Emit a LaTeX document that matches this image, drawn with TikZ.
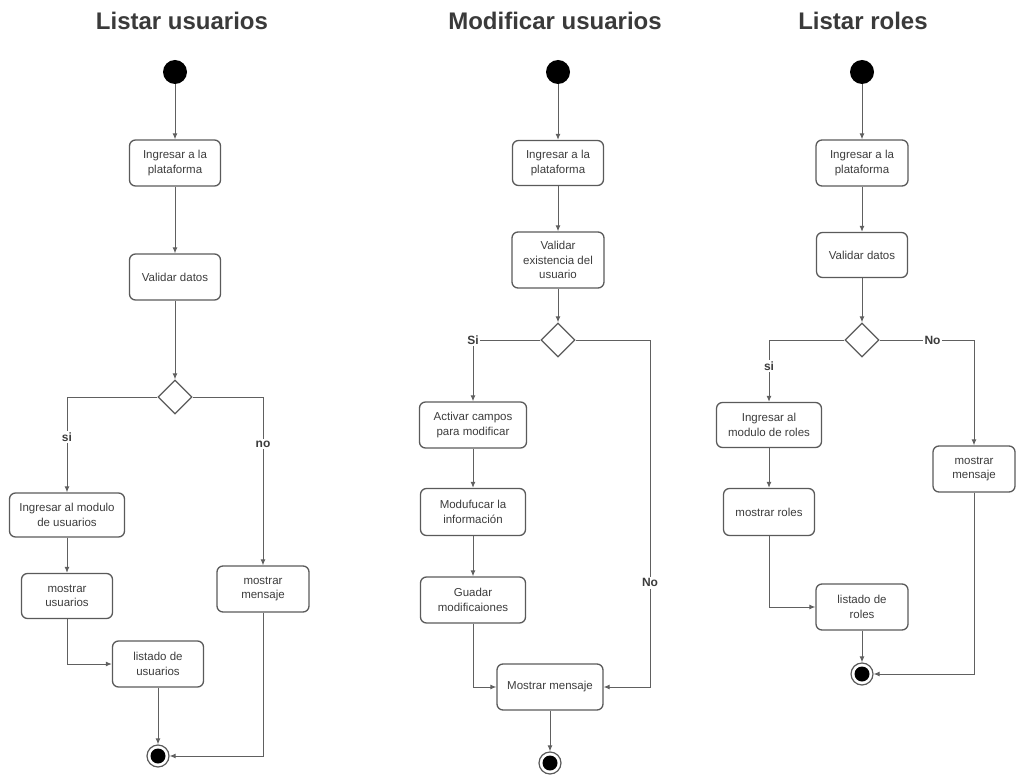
\documentclass[tikz,border=0pt]{standalone}
\usepackage{fontspec}
\setmainfont{Liberation Sans}
\usetikzlibrary{arrows.meta,shapes.geometric}
\definecolor{boxgray}{HTML}{5A5A5A}
\definecolor{linegray}{HTML}{606060}
\definecolor{txtgray}{HTML}{3C3C3C}
\definecolor{titlegray}{HTML}{3A3A3A}
\begin{document}
\begin{tikzpicture}[x=1pt,y=-1pt,
  act/.style={draw=boxgray, line width=1.3pt, rounded corners=6pt, inner sep=2pt,
    align=center, text=txtgray, font=\fontsize{11.5}{14.5}\selectfont},
  choice/.style={draw=boxgray, line width=1.3pt, diamond, aspect=1, inner sep=0pt,
    minimum width=34pt, minimum height=34pt},
  startdot/.style={circle, fill=black, inner sep=0pt, minimum size=24pt},
  enddot/.style={circle, draw=boxgray, line width=1.2pt, fill=white, inner sep=0pt,
    minimum size=22pt, path picture={\fill[black] (path picture bounding box.center) circle (7.5pt);}},
  flow/.style={draw=linegray, line width=1pt, -{Latex[length=6pt,width=5pt]}},
  lbl/.style={fill=white, inner sep=1.5pt, text=txtgray, font=\bfseries\fontsize{12}{14}\selectfont},
  ttl/.style={text=titlegray, font=\bfseries\fontsize{24}{28}\selectfont}]
\useasboundingbox (0,0) rectangle (1016,775);

% ---------- Listar usuarios ----------
\node[ttl] (t1) at (182,21) {Listar usuarios};
\node[startdot] (s1) at (175,72) {};
\node[act, minimum width=91pt, minimum height=46pt] (a1) at (175,163) {Ingresar a la\\plataforma};
\node[act, minimum width=91pt, minimum height=46pt] (b1) at (175,277) {Validar datos};
\node[choice] (d1) at (175,397) {};
\node[act, minimum width=115pt, minimum height=44pt] (c1) at (67,515) {Ingresar al modulo\\de usuarios};
\node[act, minimum width=91pt, minimum height=45pt] (u1) at (67,596) {mostrar\\usuarios};
\node[act, minimum width=91pt, minimum height=46pt] (l1) at (158,664) {listado de\\usuarios};
\node[act, minimum width=92pt, minimum height=46pt] (m1) at (263,589) {mostrar\\mensaje};
\node[enddot] (e1) at (158,756) {};

\draw[flow] (s1) -- (a1);
\draw[flow] (a1) -- (b1);
\draw[flow] (b1) -- (d1);
\draw[flow] (d1.west) -| node[lbl, pos=0.71] {si} (c1.north);
\draw[flow] (d1.east) -| node[lbl, pos=0.64] {no} (m1.north);
\draw[flow] (c1) -- (u1);
\draw[flow] (u1.south) |- (l1.west);
\draw[flow] (l1) -- (e1);
\draw[flow] (m1.south) |- (e1.east);

% ---------- Modificar usuarios ----------
\node[ttl] (t2) at (555,21) {Modificar usuarios};
\node[startdot] (s2) at (558,72) {};
\node[act, minimum width=91pt, minimum height=45pt] (a2) at (558,163) {Ingresar a la\\plataforma};
\node[act, minimum width=92pt, minimum height=56pt] (b2) at (558,260) {Validar\\existencia del\\usuario};
\node[choice] (d2) at (558,340) {};
\node[act, minimum width=107pt, minimum height=46pt] (c2) at (473,425) {Activar campos\\para modificar};
\node[act, minimum width=105pt, minimum height=47pt] (f2) at (473,512) {Modufucar la\\información};
\node[act, minimum width=105pt, minimum height=46pt] (g2) at (473,600) {Guadar\\modificaiones};
\node[act, minimum width=106pt, minimum height=46pt] (k2) at (550,687) {Mostrar mensaje};
\node[enddot] (e2) at (550,763) {};
\coordinate (n2) at (650,687);

\draw[flow] (s2) -- (a2);
\draw[flow] (a2) -- (b2);
\draw[flow] (b2) -- (d2);
\draw[flow] (d2.west) -| node[lbl, pos=0.5] {Si} (c2.north);
\draw[flow] (c2) -- (f2);
\draw[flow] (f2) -- (g2);
\draw[flow] (g2.south) |- (k2.west);
\draw[flow] (d2.east) -| node[lbl, pos=0.85] {No} (n2) -- (k2.east);
\draw[flow] (k2) -- (e2);

% ---------- Listar roles ----------
\node[ttl] (t3) at (863,21) {Listar roles};
\node[startdot] (s3) at (862,72) {};
\node[act, minimum width=92pt, minimum height=46pt] (a3) at (862,163) {Ingresar a la\\plataforma};
\node[act, minimum width=91pt, minimum height=45pt] (b3) at (862,255) {Validar datos};
\node[choice] (d3) at (862,340) {};
\node[act, minimum width=105pt, minimum height=45pt] (c3) at (769,425) {Ingresar al\\modulo de roles};
\node[act, minimum width=91pt, minimum height=47pt] (u3) at (769,512) {mostrar roles};
\node[act, minimum width=92pt, minimum height=46pt] (l3) at (862,607) {listado de\\roles};
\node[act, minimum width=82pt, minimum height=46pt] (m3) at (974,469) {mostrar\\mensaje};
\node[enddot] (e3) at (862,674) {};

\draw[flow] (s3) -- (a3);
\draw[flow] (a3) -- (b3);
\draw[flow] (b3) -- (d3);
\draw[flow] (d3.west) -| node[lbl, pos=0.71] {si} (c3.north);
\draw[flow] (d3.east) -| node[lbl, pos=0.28] {No} (m3.north);
\draw[flow] (c3) -- (u3);
\draw[flow] (u3.south) |- (l3.west);
\draw[flow] (l3) -- (e3);
\draw[flow] (m3.south) |- (e3.east);
\end{tikzpicture}
\end{document}
